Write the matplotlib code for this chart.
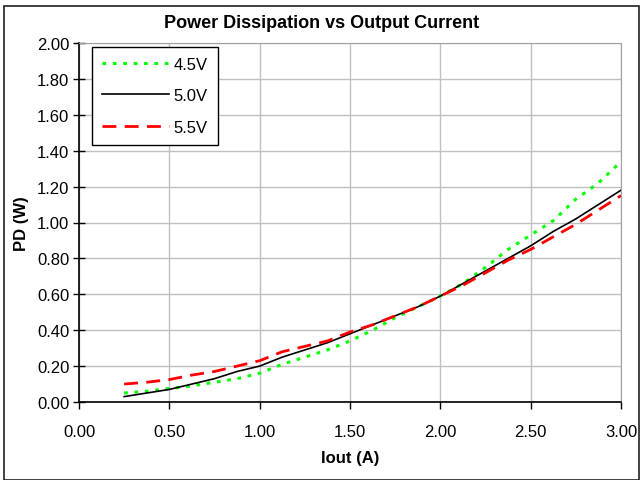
import matplotlib
matplotlib.use("Agg")
from matplotlib import pyplot as plt
from matplotlib import patches as mpatches

plt.rcParams["font.family"] = ["Liberation Sans", "DejaVu Sans"]

# load current (A)
iout = [0.25, 0.375, 0.5, 0.625, 0.75, 0.875, 1.0, 1.125, 1.25, 1.375, 1.5, 1.625,
        1.75, 1.875, 2.0, 2.125, 2.25, 2.375, 2.5, 2.625, 2.75, 2.875, 3.0]

# power dissipation (W) per input voltage
pd_45 = [0.05, 0.06, 0.075, 0.09, 0.11, 0.13, 0.16, 0.21, 0.25, 0.29, 0.34, 0.40,
         0.47, 0.53, 0.59, 0.66, 0.75, 0.85, 0.93, 1.01, 1.13, 1.22, 1.34]
pd_50 = [0.03, 0.05, 0.07, 0.10, 0.13, 0.17, 0.20, 0.25, 0.29, 0.33, 0.38, 0.43,
         0.48, 0.53, 0.59, 0.66, 0.73, 0.80, 0.87, 0.95, 1.02, 1.10, 1.18]
pd_55 = [0.10, 0.11, 0.125, 0.15, 0.17, 0.20, 0.23, 0.28, 0.31, 0.34, 0.39, 0.43,
         0.48, 0.53, 0.59, 0.65, 0.72, 0.79, 0.85, 0.92, 0.99, 1.07, 1.15]

xticks = [0.0, 0.5, 1.0, 1.5, 2.0, 2.5, 3.0]
yticks = [0.0, 0.2, 0.4, 0.6, 0.8, 1.0, 1.2, 1.4, 1.6, 1.8, 2.0]

fig = plt.figure(figsize=(6.40, 4.81), dpi=100)
ax = fig.add_axes([79 / 640, 1 - 403 / 481, 542 / 640, 359 / 481])

# outer chart border
fig.patches.append(mpatches.Rectangle((4 / 640, 0.5 / 481), 635 / 640, 473.5 / 481,
                                      transform=fig.transFigure, fill=False,
                                      edgecolor="#202020", linewidth=1.2))

ax.plot(iout, pd_45, color="#00ff00", linestyle=(0, (1.2, 2.2)), linewidth=2.2, label="4.5V")
ax.plot(iout, pd_50, color="black", linestyle="-", linewidth=1.2, label="5.0V")
ax.plot(iout, pd_55, color="#ff0000", linestyle=(0, (5, 3)), linewidth=2.0, label="5.5V")

ax.set_xlim(0, 3.0)
ax.set_ylim(0, 2.0)
ax.set_xticks(xticks)
ax.set_yticks(yticks)
ax.set_xticklabels(["%.2f" % v for v in xticks])
ax.set_yticklabels(["%.2f" % v for v in yticks])
ax.tick_params(axis="both", labelsize=12, color="black", length=5, width=1)
ax.tick_params(axis="x", pad=11)
ax.tick_params(axis="y", direction="inout", length=8, pad=3)
ax.grid(True, color="#c0c0c0", linewidth=1)
ax.set_axisbelow(True)

for s in ["top", "right"]:
    ax.spines[s].set_color("#a0a0a0")
for s in ["left", "bottom"]:
    ax.spines[s].set_color("black")
    ax.spines[s].set_linewidth(1.2)

ax.set_xlabel("Iout (A)", fontsize=12, fontweight="bold", labelpad=8)
ax.set_ylabel("PD (W)", fontsize=12, fontweight="bold", labelpad=6)
fig.text(322 / 640, 1 - 24 / 481, "Power Dissipation vs Output Current",
         ha="center", va="center", fontsize=13, fontweight="bold")

leg = ax.legend(loc="upper left", bbox_to_anchor=(0.024, 0.99), fontsize=12,
                handlelength=4.0, labelspacing=1.0, borderpad=0.6, handletextpad=0.3,
                fancybox=False, framealpha=1, borderaxespad=0)
leg.get_frame().set_edgecolor("black")
leg.get_frame().set_linewidth(1)

fig.savefig("out.png", dpi=100)
